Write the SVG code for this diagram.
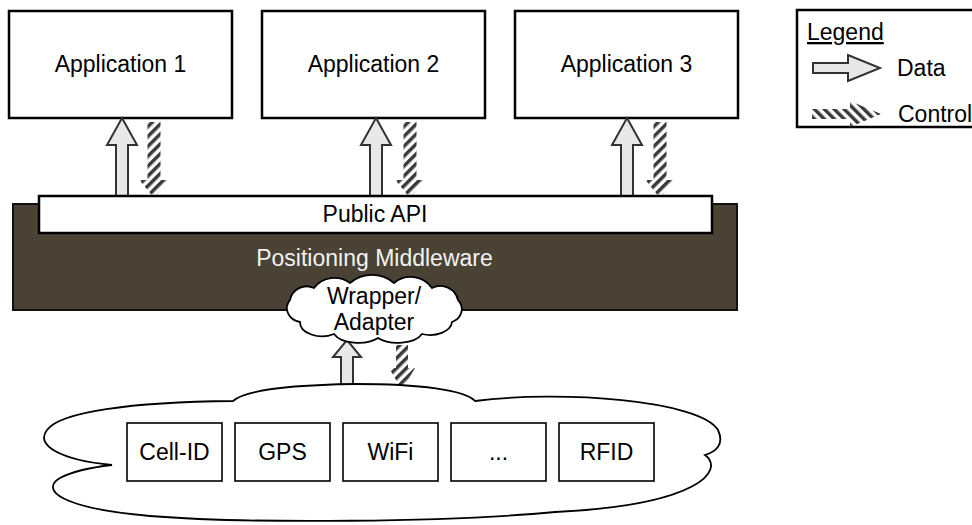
<svg xmlns="http://www.w3.org/2000/svg" xmlns:xlink="http://www.w3.org/1999/xlink" width="972" height="525" viewBox="0 0 972 525">
  <style>
    .box { fill: #ffffff; stroke: #000000; stroke-width: 2.5; }
    .src { fill: #ffffff; stroke: #000000; stroke-width: 1.6; }
    .cloud { fill: #ffffff; stroke: #000000; stroke-width: 1.8; }
    .lbl { font-family: "Liberation Sans", Arial, Helvetica, sans-serif; font-size: 23px; fill: #000000; text-anchor: middle; }
    .lbl-l { font-family: "Liberation Sans", Arial, Helvetica, sans-serif; font-size: 23px; fill: #000000; }
    .data { fill: #e8e8e8; stroke: #333333; stroke-width: 2; stroke-linejoin: miter; }
    .ctrl { fill: url(#stripes); stroke: none; }
    .ctrl-h { fill: url(#stripes-h); stroke: none; }
  </style>
  <defs>
    <!-- diagonal hatching for control flow -->
    <pattern id="stripes" patternUnits="userSpaceOnUse" width="7" height="7" patternTransform="rotate(45)">
      <rect x="0" y="0" width="7" height="7" fill="#ffffff"/>
      <rect x="0" y="0" width="3.5" height="7" fill="#3a3a3a"/>
    </pattern>
    <pattern id="stripes-h" patternUnits="userSpaceOnUse" width="7" height="7" patternTransform="rotate(-45)">
      <rect x="0" y="0" width="7" height="7" fill="#ffffff"/>
      <rect x="0" y="0" width="3.5" height="7" fill="#3a3a3a"/>
    </pattern>
    <!-- arrow shapes, origin at the application box bottom edge -->
    <path id="up-arrow" d="M0,0 L15,27 L6,27 L6,82 L-6,82 L-6,27 L-15,27 Z"/>
    <path id="down-arrow" d="M-6.5,4 L6.5,4 L6.5,62 L14.5,62 L0,80 L-14.5,62 L-6.5,62 Z"/>
  </defs>

  <!-- application layer -->
  <g id="app1">
    <rect class="box" x="9" y="11" width="223" height="107"/>
    <text class="lbl" x="120.5" y="72">Application 1</text>
  </g>
  <g id="app2">
    <rect class="box" x="262" y="11" width="223" height="107"/>
    <text class="lbl" x="373.5" y="72">Application 2</text>
  </g>
  <g id="app3">
    <rect class="box" x="515" y="11" width="223" height="107"/>
    <text class="lbl" x="626.5" y="72">Application 3</text>
  </g>

  <!-- legend -->
  <g id="legend">
    <rect class="box" x="797" y="10" width="190" height="117"/>
    <text class="lbl-l" x="807" y="40" text-decoration="underline">Legend</text>
    <path class="data" d="M813,63 L848,63 L848,55 L880,68 L848,81 L848,73 L813,73 Z"/>
    <text class="lbl-l" x="897" y="76">Data</text>
    <path class="ctrl-h" d="M812,109 L850,109 L850,101 L881,114 L850,127 L850,119 L812,119 Z"/>
    <text class="lbl-l" x="898" y="122">Control</text>
  </g>

  <!-- middleware layer -->
  <g id="middleware">
    <rect x="13" y="204" width="724" height="106" fill="#4a4234" stroke="#111111" stroke-width="2"/>
    <text class="lbl" x="374.5" y="266" style="fill:#f2f2f2" font-size="24">Positioning Middleware</text>
  </g>

  <!-- connectors -->
  <g id="connectors">
    <use xlink:href="#up-arrow" class="data" transform="translate(122,118)"/>
    <use xlink:href="#down-arrow" class="ctrl" transform="translate(154,118)"/>
    <use xlink:href="#up-arrow" class="data" transform="translate(376,118)"/>
    <use xlink:href="#down-arrow" class="ctrl" transform="translate(410,118)"/>
    <use xlink:href="#up-arrow" class="data" transform="translate(627,118)"/>
    <use xlink:href="#down-arrow" class="ctrl" transform="translate(660,118)"/>
    <path class="data" d="M347,340 L361,357 L353,357 L353,395 L341,395 L341,357 L333,357 Z"/>
    <path class="ctrl" d="M396,345 L408,345 L408,368 L415,368 L402,390 L389,368 L396,368 Z"/>
  </g>

  <g id="public-api">
    <rect class="box" x="39" y="196" width="673" height="37" stroke-width="2"/>
    <text class="lbl" x="375" y="222">Public API</text>
  </g>

  <g id="wrapper">
    <path class="cloud" d="M300,322 A16,14 0 0 1 290,300 A17,17 0 0 1 314,288 A26,26 0 0 1 350,283 A34,34 0 0 1 394,283 A26,26 0 0 1 432,288 A18,18 0 0 1 458,300 A16,14 0 0 1 452,322 A22,14 0 0 1 422,334 A26,14 0 0 1 378,338 A26,14 0 0 1 334,334 A22,14 0 0 1 300,322 Z"/>
    <text class="lbl" x="374" y="304">Wrapper/</text>
    <text class="lbl" x="374" y="330">Adapter</text>
  </g>

  <!-- positioning technologies -->
  <g id="sources">
    <path class="cloud" d="M112,465 C60,460 35,445 47,430 C60,412 130,402 233,401 C245,390 290,385 355,384 C420,384 465,390 475,401 C560,390 700,400 718,430 C725,445 715,452 705,455 C725,470 700,505 555,512 C450,522 250,524 150,516 C60,508 40,490 60,478 C75,470 95,467 112,465 Z"/>
  </g>
  <g id="cell-id">
    <rect class="src" x="127" y="423" width="95" height="58"/>
    <text class="lbl" x="174.5" y="460">Cell-ID</text>
  </g>
  <g id="gps">
    <rect class="src" x="235" y="423" width="95" height="58"/>
    <text class="lbl" x="282.5" y="460">GPS</text>
  </g>
  <g id="wifi">
    <rect class="src" x="343" y="423" width="95" height="58"/>
    <text class="lbl" x="390.5" y="460">WiFi</text>
  </g>
  <g id="more">
    <rect class="src" x="451" y="423" width="95" height="58"/>
    <text class="lbl" x="498.5" y="460">...</text>
  </g>
  <g id="rfid">
    <rect class="src" x="559" y="423" width="95" height="58"/>
    <text class="lbl" x="606.5" y="460">RFID</text>
  </g>
</svg>
